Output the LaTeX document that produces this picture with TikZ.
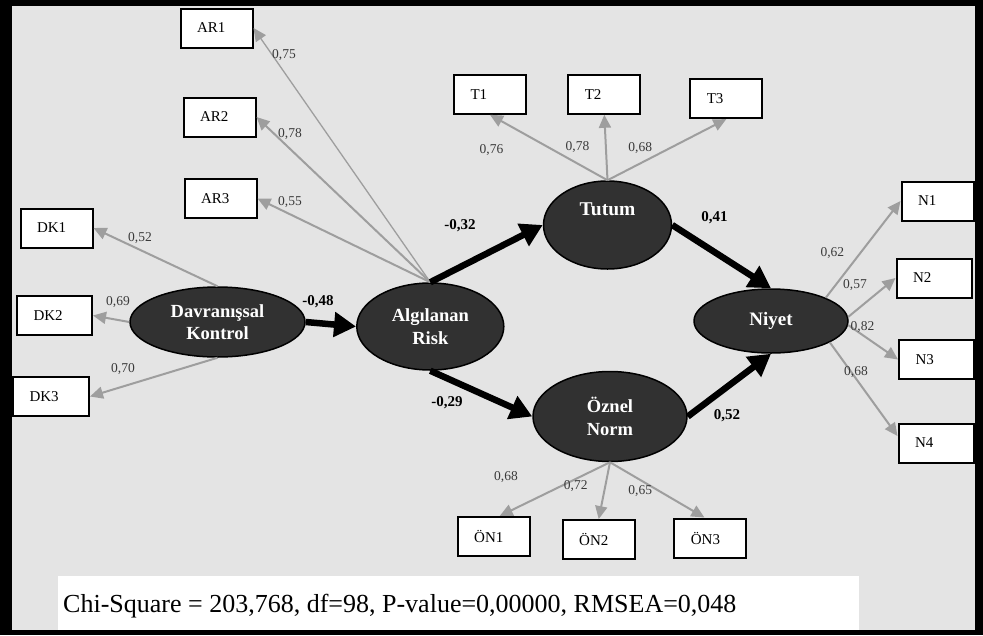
\documentclass[tikz,border=0pt]{standalone}
\usepackage{fontspec}
\setmainfont{Liberation Serif}
\usetikzlibrary{shapes.geometric,arrows.meta}
\definecolor{bggray}{HTML}{E4E4E4}
\definecolor{ldgray}{HTML}{9E9E9E}
\definecolor{elfill}{HTML}{313131}
\definecolor{lblc}{HTML}{3A3A3A}
\begin{document}
\begin{tikzpicture}[x=1pt,y=-1pt,
  ind/.style={draw=black, line width=2pt, fill=white, rectangle, minimum height=39pt,
    text width=39pt, inner xsep=16.5pt, inner ysep=0pt, align=left,
    font=\fontsize{15}{17}\selectfont},
  lat/.style={ellipse, draw=black, line width=1.5pt, fill=elfill, text=white, align=center,
    inner sep=0pt, font=\bfseries\fontsize{18.5}{22.5}\selectfont},
  load/.style={draw=ldgray, line width=2pt, -{Triangle[length=13pt,width=12pt]}},
  struct/.style={draw=black, line width=6.5pt, -{Triangle[length=22pt,width=24pt]}},
  lw/.style={text=lblc, font=\fontsize{13.5}{15}\selectfont, inner sep=0pt},
  pw/.style={text=black, font=\bfseries\fontsize{15}{17}\selectfont, inner sep=0pt}
]
\useasboundingbox (0,0) rectangle (983,635);
% frame
\fill[black] (0,0) rectangle (983,635);
\fill[bggray] (12,6) rectangle (975,630);
\fill[white] (58,576) rectangle (859,630);
\node[anchor=base west, font=\fontsize{26}{28}\selectfont, inner sep=0pt] (chi) at (63,612)
  {Chi-Square = 203,768, df=98, P-value=0,00000, RMSEA=0,048};

% latent variables
\node[lat, minimum width=175pt, minimum height=70pt] (DK) at (217.5,322) {Davranışsal\\Kontrol};
\node[lat, minimum width=147pt, minimum height=87pt] (AR) at (430.3,326.5) {Algılanan\\Risk};
\node[lat, minimum width=128pt, minimum height=88pt,
  label={[text=white, font=\bfseries\fontsize{19.5}{22}\selectfont, yshift=16pt]center:Tutum}] (TU) at (607.5,225) {};
\node[lat, minimum width=154pt, minimum height=64pt, font=\bfseries\fontsize{19}{22}\selectfont] (NI) at (771,321) {Niyet};
\node[lat, minimum width=154pt, minimum height=90pt] (OZ) at (610,416.5) {Öznel\\Norm};

% indicators
\node[ind] (AR1) at (216.5,28) {AR1};
\node[ind] (AR2) at (219.5,117) {AR2};
\node[ind] (AR3) at (220.5,198.5) {AR3};
\node[ind] (DK1) at (56.5,228) {DK1};
\node[ind, text width=42pt] (DK2) at (54.5,315.5) {DK2};
\node[ind, text width=43pt] (DK3) at (51,396.5) {DK3};
\node[ind] (T1) at (490,94.3) {T1};
\node[ind] (T2) at (604.3,94.3) {T2};
\node[ind] (T3) at (726.3,98.6) {T3};
\node[ind] (N1) at (937.5,201) {N1};
\node[ind, text width=42pt] (N2) at (934,278) {N2};
\node[ind, text width=42pt] (N3) at (936.5,359.5) {N3};
\node[ind, text width=42pt] (N4) at (936,443) {N4};
\node[ind] (ON1) at (493.7,536.5) {ÖN1};
\node[ind] (ON2) at (598.7,539.6) {ÖN2};
\node[ind] (ON3) at (710.4,538) {ÖN3};

% loadings
\draw[load, line width=1.3pt] (AR.north) -- (AR1.east);
\draw[load] (AR.north) -- (AR2.east);
\draw[load] (AR.north) -- (AR3.east);
\draw[load] (DK.north) -- (DK1.east);
\draw[load] (DK.west) -- (DK2.east);
\draw[load] (DK.south) -- (DK3.east);
\draw[load] (TU.north) -- (T1.south);
\draw[load] (TU.north) -- (T2.south);
\draw[load] (TU.north) -- (T3.south);
\draw[load] (NI.23) -- (N1.west);
\draw[load] (NI.3) -- (N2.west);
\draw[load] (NI.-3) -- (N3.west);
\draw[load] (NI.-20) -- ([yshift=7pt]N4.west);
\draw[load] (OZ.south) -- ([xshift=6pt]ON1.north);
\draw[load] (OZ.south) -- (ON2.north);
\draw[load] (OZ.south) -- ([xshift=-6pt]ON3.north);

% structural paths
\draw[struct] (DK.east) -- (AR.west);
\draw[struct] (AR.north) -- (TU.west);
\draw[struct] (AR.south) -- (OZ.west);
\draw[struct] (TU.east) -- (NI.north);
\draw[struct] (OZ.east) -- (NI.south);

% structural coefficients
\node[pw] (p1) at (318,302) {-0,48};
\node[pw] (p2) at (460,226) {-0,32};
\node[pw] (p3) at (447,403) {-0,29};
\node[pw] (p4) at (714.5,218) {0,41};
\node[pw] (p5) at (727,416) {0,52};

% loading values
\node[lw] (l1) at (284,55) {0,75};
\node[lw] (l2) at (290,134) {0,78};
\node[lw] (l3) at (290,202) {0,55};
\node[lw] (l4) at (140,238) {0,52};
\node[lw] (l5) at (118,302) {0,69};
\node[lw] (l6) at (123,369) {0,70};
\node[lw] (l7) at (491.5,150) {0,76};
\node[lw] (l8) at (577.5,146.7) {0,78};
\node[lw] (l9) at (640.3,148.4) {0,68};
\node[lw] (l10) at (832.4,252.7) {0,62};
\node[lw] (l11) at (855,285) {0,57};
\node[lw] (l12) at (862.5,327) {0,82};
\node[lw] (l13) at (856,372) {0,68};
\node[lw] (l14) at (506,476.7) {0,68};
\node[lw] (l15) at (575.8,486.3) {0,72};
\node[lw] (l16) at (640.3,491) {0,65};
\end{tikzpicture}
\end{document}
